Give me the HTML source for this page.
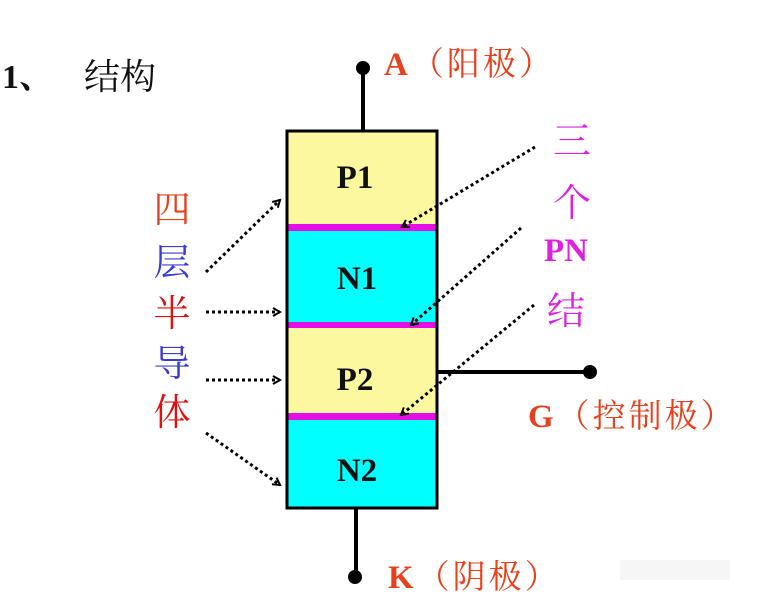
<!DOCTYPE html>
<html><head><meta charset="utf-8"><style>
body{margin:0;width:757px;height:605px;background:#fff;overflow:hidden}
svg text{font-family:"Liberation Serif","Noto Serif CJK SC",serif}
</style></head><body>
<svg width="757" height="605" viewBox="0 0 757 605" xmlns="http://www.w3.org/2000/svg">
<defs><marker id="ar" markerWidth="10" markerHeight="10" refX="8" refY="5" orient="auto" markerUnits="userSpaceOnUse"><path d="M1,1 L8,5 L1,9" fill="none" stroke="#000" stroke-width="2"/></marker></defs>
<text x="2" y="88" font-size="34" font-weight="bold" fill="#111">1、</text>
<text x="84" y="89" font-size="36" fill="#111">结构</text>
<line x1="363" y1="68" x2="363" y2="130" stroke="#000" stroke-width="4"/>
<circle cx="363" cy="68" r="7" fill="#000"/>
<line x1="356" y1="508" x2="356" y2="577" stroke="#000" stroke-width="4"/>
<circle cx="355" cy="577" r="7" fill="#000"/>
<line x1="437" y1="372" x2="590" y2="372" stroke="#000" stroke-width="4"/>
<circle cx="590" cy="372" r="7" fill="#000"/>
<rect x="287" y="131" width="150" height="96" fill="#fbf8a0"/>
<rect x="287" y="227" width="150" height="98" fill="#00ffff"/>
<rect x="287" y="325" width="150" height="92" fill="#fbf8a0"/>
<rect x="287" y="417" width="150" height="90" fill="#00ffff"/>
<rect x="287" y="224" width="150" height="7" fill="#e60ee6"/>
<rect x="287" y="322" width="150" height="6" fill="#e60ee6"/>
<rect x="287" y="413" width="150" height="7" fill="#e60ee6"/>
<rect x="287" y="131" width="150" height="377" fill="none" stroke="#000" stroke-width="3"/>
<g font-size="33" font-weight="bold" fill="#111" text-anchor="middle">
<text x="355" y="188">P1</text><text x="357" y="289">N1</text>
<text x="355" y="390">P2</text><text x="357" y="481">N2</text></g>
<g font-size="37" text-anchor="middle">
<text x="172" y="222" fill="#e8401c">四</text>
<text x="172" y="275" fill="#3b3bd0">层</text>
<text x="172" y="326" fill="#e01010">半</text>
<text x="172" y="376" fill="#3b3bd0">导</text>
<text x="172" y="425" fill="#e01010">体</text></g>
<g stroke="#000" stroke-width="3" stroke-dasharray="3,3" fill="none" marker-end="url(#ar)">
<line x1="206" y1="272" x2="280" y2="200"/>
<line x1="206" y1="312" x2="280" y2="312"/>
<line x1="206" y1="380" x2="280" y2="380"/>
<line x1="206" y1="433" x2="280" y2="485"/>
<line x1="535" y1="147" x2="402" y2="227"/>
<line x1="521" y1="228" x2="411" y2="325"/>
<line x1="534" y1="305" x2="401" y2="415"/>
</g>
<g fill="#e020e0" text-anchor="middle">
<text x="572" y="154" font-size="38">三</text>
<text x="572" y="216" font-size="38">个</text>
<text x="566" y="261" font-size="33" font-weight="bold">PN</text>
<text x="566" y="324" font-size="38">结</text></g>
<g fill="#e8401c" font-size="33" letter-spacing="3">
<text x="384" y="75"><tspan font-weight="bold">A</tspan>（阳极）</text>
<text x="528" y="427"><tspan font-weight="bold">G</tspan>（控制极）</text>
<text x="388" y="588"><tspan font-weight="bold">K</tspan>（阴极）</text></g>
<rect x="620" y="560" width="110" height="20" fill="#f2f2f2" opacity="0.7"/>
</svg>
</body></html>
